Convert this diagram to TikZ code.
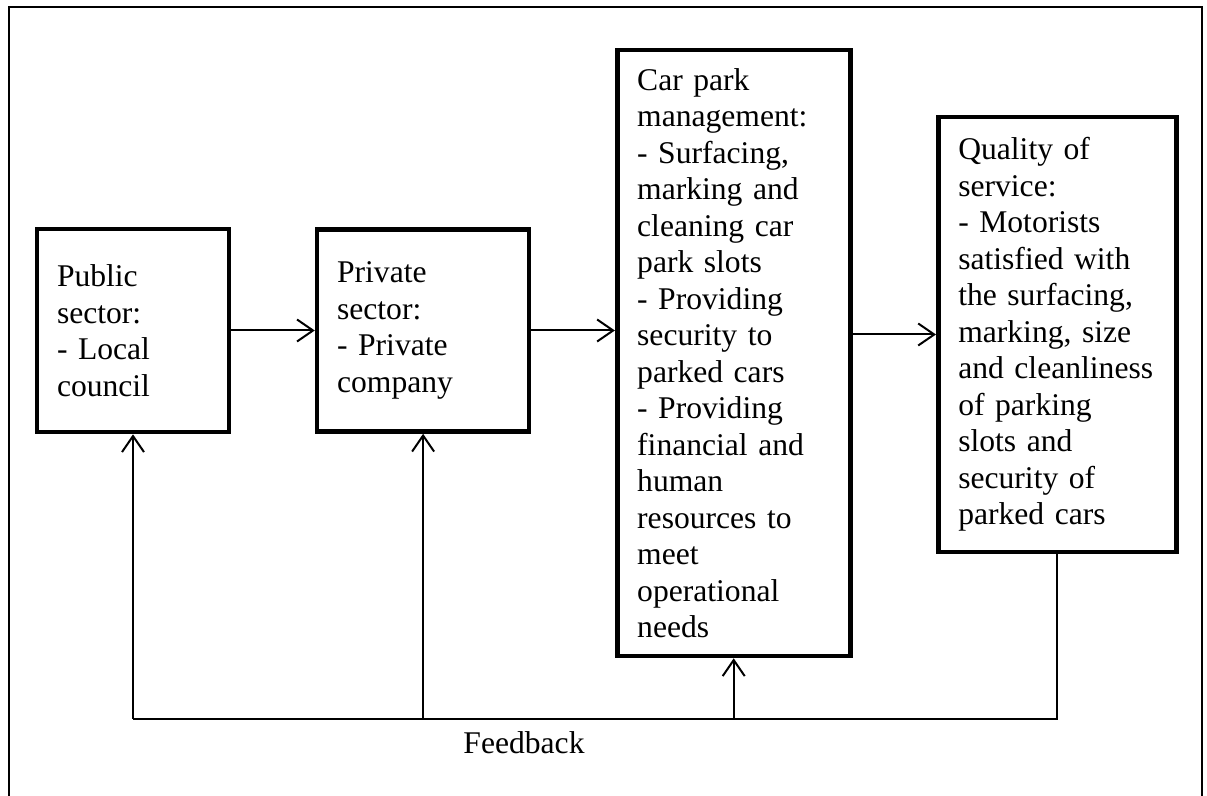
\documentclass[tikz,border=0pt]{standalone}
\usepackage{fontspec}
\setmainfont{Liberation Serif}
\usetikzlibrary{arrows.meta,positioning}
\tikzset{
  stage/.style={rectangle, draw=black, line width=2.3pt, align=left, text width=#1,
                inner xsep=10pt, font=\fontsize{15.8}{18.25}\selectfont},
  arr/.style={-{Straight Barb[length=8pt, width=11pt]}, line width=1pt},
  fil/.style={line width=1pt},
}

\begin{document}
\begin{tikzpicture}[x=0.5pt, y=-0.5pt, node distance=41.75pt]
  \useasboundingbox (0,0) rectangle (1207,796);
  \draw[line width=1.2pt] (9,796) -- (9,7) -- (1202,7) -- (1202,796);
  \node[stage=76pt, minimum height=101.5pt] (pub) at (133,330.5) {Public\\sector:\\- Local\\council};
  \node[stage=86pt, minimum height=101pt, right=of pub] (priv) {Private\\sector:\\- Private\\company};
  \node[stage=96.5pt, minimum height=303pt, right=of priv, yshift=-11.25pt] (cp) {Car park\\management:\\- Surfacing,\\marking and\\cleaning car\\park slots\\- Providing\\security to\\parked cars\\- Providing\\financial and\\human\\resources to\\meet\\operational\\needs};
  \node[stage=99pt, minimum height=217.5pt, right=of cp, yshift=9.25pt] (qual) {Quality of\\service:\\- Motorists\\satisfied with\\the surfacing,\\marking, size\\and cleanliness\\of parking\\slots and\\security of\\parked cars};
  \draw[arr] (pub) -- (priv);
  \draw[arr] (priv.east) -- (priv.east -| cp.west);
  \draw[arr] (qual.west -| cp.east) -- (qual.west);
  % feedback loop
  \coordinate (bus) at (0,719);
  \draw[fil] (qual.south) -- (qual.south |- bus) -- (pub.south |- bus);
  \draw[arr] (pub.south |- bus) -- (pub.south);
  \draw[arr] (priv.south |- bus) -- (priv.south);
  \draw[arr] (cp.south |- bus) -- (cp.south);
  \node[font=\fontsize{15.8}{18.25}\selectfont] (fb) at (524,743) {Feedback};
\end{tikzpicture}
\end{document}
